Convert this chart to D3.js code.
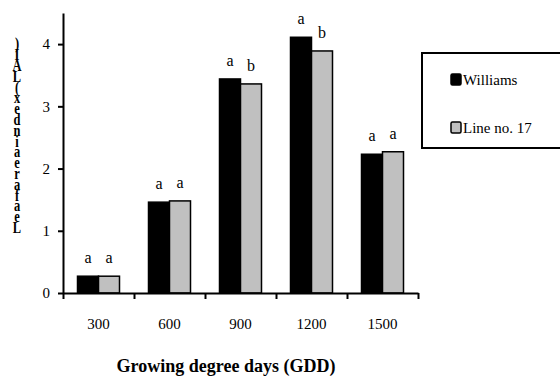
<!DOCTYPE html>
<html>
	<head>
		<meta charset="utf-8">
		<style type="text/css">
			body { margin: 0; background: #fff; }
			.axis path, .axis line { stroke: #000; stroke-width: 2px; }
		</style>
		<title>Leaf area index</title>
	</head>
	<body>
		<script src="https://cdn.jsdelivr.net/npm/d3@7"></script>
		<script>

			// data
			var gdd = ['300', '600', '900', '1200', '1500'];
			var series = ['Williams', 'Line no. 17'];
			var williams = [0.27, 1.46, 3.44, 4.11, 2.23];
			var line17 = [0.27, 1.48, 3.36, 3.89, 2.27];
			var lettersWilliams = ['a', 'a', 'a', 'a', 'a'];
			var lettersLine17 = ['a', 'a', 'b', 'b', 'a'];
			var yTicks = [0, 1, 2, 3, 4];
			var yLabel = 'Leaf area index (LAI)';
			var xLabel = 'Growing degree days (GDD)';

			var colors = {'Williams': '#000', 'Line no. 17': '#c0c0c0'};
			var font = "'Liberation Serif'";

			var totalWidth = 560, totalHeight = 376;
			var margin = {top: 13, left: 63};
			var plotWidth = 355, plotHeight = 280;

			var svg = d3.select('body').append('svg')
				.attr('width', totalWidth)
				.attr('height', totalHeight);

			var chart = svg.append('g')
				.attr('transform', 'translate(' + margin.left + ',' + margin.top + ')');

			var scaleX = d3.scaleBand().domain(gdd).range([0, plotWidth]);
			var scaleX1 = d3.scaleBand().domain(series).range([0, 42]);
			var groupOffset = (scaleX.bandwidth() - 42) / 2;
			var scaleY = d3.scaleLinear().domain([0, 4.5]).range([plotHeight, 0]);

			// bars
			var rows = gdd.map(function(g, i) {
				return [
					{gdd: g, s: 'Williams', v: williams[i], l: lettersWilliams[i]},
					{gdd: g, s: 'Line no. 17', v: line17[i], l: lettersLine17[i]}
				];
			});

			var groups = chart.selectAll('.group')
				.data(rows)
			  .enter().append('g')
				.attr('class', 'group')
				.attr('transform', function(d) { return 'translate(' + (scaleX(d[0].gdd) + groupOffset) + ',0)'; });

			groups.selectAll('rect')
				.data(function(d) { return d; })
			  .enter().append('rect')
				.attr('x', function(d) { return scaleX1(d.s); })
				.attr('y', function(d) { return scaleY(d.v); })
				.attr('width', scaleX1.bandwidth())
				.attr('height', function(d) { return plotHeight - scaleY(d.v); })
				.attr('fill', function(d) { return colors[d.s]; })
				.attr('stroke', '#000')
				.attr('stroke-width', 1.5);

			groups.selectAll('text')
				.data(function(d) { return d; })
			  .enter().append('text')
				.attr('x', function(d) { return scaleX1(d.s) + scaleX1.bandwidth() / 2; })
				.attr('y', function(d) { return scaleY(d.v) - 13; })
				.attr('text-anchor', 'middle')
				.style('font-family', font)
				.style('font-size', '16px')
				.text(function(d) { return d.l; });

			// Y axis
			var yAxis = d3.axisLeft(scaleY).tickValues(yTicks).tickFormat(d3.format('d'))
				.tickSize(5).tickSizeOuter(0).tickPadding(8);
			chart.append('g')
				.attr('class', 'axis')
				.call(yAxis)
				.selectAll('text')
				.style('font-family', font)
				.style('font-size', '15px')
				.attr('fill', '#000');

			// X axis: ticks on the band edges, labels at the centres
			var edges = d3.scaleLinear().domain([0, gdd.length]).range([0, plotWidth]);
			var xAxis = d3.axisBottom(edges).ticks(gdd.length).tickSize(6).tickSizeOuter(0).tickFormat('');
			chart.append('g')
				.attr('class', 'axis')
				.attr('transform', 'translate(0,' + plotHeight + ')')
				.call(xAxis);

			chart.append('g')
				.selectAll('text')
				.data(gdd)
			  .enter().append('text')
				.attr('x', function(d) { return scaleX(d) + scaleX.bandwidth() / 2; })
				.attr('y', plotHeight + 36)
				.attr('text-anchor', 'middle')
				.style('font-family', font)
				.style('font-size', '15px')
				.text(function(d) { return d; });

			// axis titles
			svg.append('text')
				.attr('x', 226)
				.attr('y', 372)
				.attr('text-anchor', 'middle')
				.style('font-family', font)
				.style('font-size', '18px')
				.style('font-weight', 'bold')
				.text(xLabel);

			// y title: upright letters stacked bottom to top, no spaces, a bit narrowed
			var chars = yLabel.replace(/ /g, '').split('');
			svg.append('g')
				.selectAll('text')
				.data(chars)
			  .enter().append('text')
				.attr('transform', function(d, i) { return 'translate(17,' + (233 - i * 10.8) + ') scale(0.78,1)'; })
				.attr('text-anchor', 'middle')
				.style('font-family', font)
				.style('font-size', '16px')
				.style('font-weight', 'bold')
				.text(function(d) { return d; });

			// legend
			var legend = svg.append('g');
			legend.append('rect')
				.attr('x', 422).attr('y', 53)
				.attr('width', 145).attr('height', 95)
				.attr('fill', '#fff')
				.attr('stroke', '#000')
				.attr('stroke-width', 2);

			var items = legend.selectAll('.item')
				.data(series)
			  .enter().append('g')
				.attr('class', 'item')
				.attr('transform', function(d, i) { return 'translate(451,' + (74 + i * 48) + ')'; });

			items.append('rect')
				.attr('width', 10).attr('height', 11)
				.attr('rx', 1.5)
				.attr('fill', function(d) { return colors[d]; })
				.attr('stroke', '#000')
				.attr('stroke-width', 1.5);

			items.append('text')
				.attr('x', 12)
				.attr('y', 11)
				.style('font-family', font)
				.style('font-size', '15px')
				.text(function(d) { return d; });

		</script>
	</body>
</html>
